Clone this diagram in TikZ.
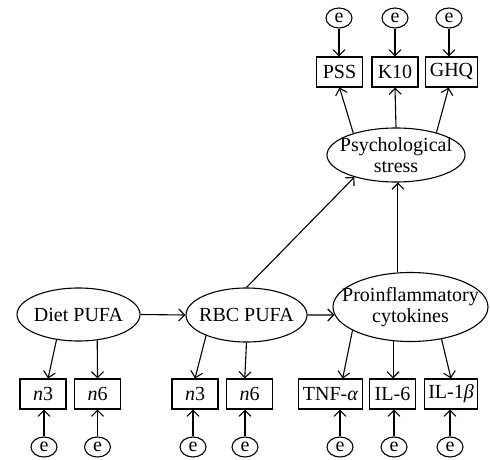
\documentclass[tikz,border=0pt]{standalone}
\usepackage{fontspec}
\setmainfont{Liberation Serif}
\usetikzlibrary{shapes.geometric,arrows.meta}

\newcommand{\ctr}[1]{\makebox[0pt]{#1}}

\tikzset{
	latent/.style={ellipse, draw, inner sep=0pt, align=center},
	obs/.style={rectangle, draw, minimum width=46pt, minimum height=30pt, inner xsep=4pt, inner ysep=0pt},
	err/.style={ellipse, draw, minimum width=26pt, minimum height=20pt, inner sep=0pt},
	lnk/.style={-{Straight Barb[length=6pt,width=12pt]}}
}

\begin{document}
\begin{tikzpicture}[x=1pt, y=-1pt, line width=1.1pt, font=\fontsize{20}{21}\selectfont]
			\useasboundingbox (0,0) rectangle (490,460);
			% latent variables
			\node[latent, minimum width=123pt, minimum height=53pt] (dp) at (78.5, 314.5) {\ctr{Diet PUFA}};
			\node[latent, minimum width=121pt, minimum height=54pt] (rbc) at (246.5, 315) {\ctr{RBC PUFA}};
			\node[latent, minimum width=155pt, minimum height=69pt] (pc) at (410.5, 307) {\ctr{Proinflammatory}\\\ctr{cytokines}};
			\node[latent, minimum width=138pt, minimum height=54pt] (ps) at (396, 155) {\ctr{Psychological}\\\ctr{stress}};
			
			% indicators (top)
			\node[obs] (pss) at (339.5, 72) {PSS};
			\node[obs] (k10) at (395, 72) {K10};
			\node[obs] (ghq) at (451.5, 72) {GHQ};
			
			% indicators (bottom)
			\node[obs] (dn3) at (43, 394) {\textit{n}3};
			\node[obs] (dn6) at (97.5, 394) {\textit{n}6};
			\node[obs] (rn3) at (195, 394) {\textit{n}3};
			\node[obs] (rn6) at (249.5, 394) {\textit{n}6};
			\node[obs] (tnf) at (330.5, 394) {TNF-\textit{α}};
			\node[obs] (il6) at (392.5, 394) {IL-6};
			\node[obs] (il1) at (451, 394) {IL-1\textit{β}};
			
			% errors
			\node[err] (ep) at (339, 18) {e};
			\node[err] (ek) at (395, 18) {e};
			\node[err] (eg) at (449, 18) {e};
			\node[err] (e1) at (44, 447) {e};
			\node[err] (e2) at (97.5, 447) {e};
			\node[err] (e3) at (193, 447) {e};
			\node[err] (e4) at (245, 447) {e};
			\node[err] (e5) at (340, 447) {e};
			\node[err] (e6) at (394, 447) {e};
			\node[err] (e7) at (450, 447) {e};
			
			% DRAW STRUCTURAL PATHS
			\path[draw, lnk] (dp.east)--(rbc.west);
			\path[draw, lnk] (rbc.east)--(pc.186);
			\path[draw, lnk] (rbc.90)--(ps.208);
			\path[draw, lnk] (pc.110)--(pc.110 |- ps.south);
			
			% DRAW LOADINGS
			\path[draw, lnk] (ps.153)--(pss.south);
			\path[draw, lnk] (ps.north)--(k10.south);
			\path[draw, lnk] (ps.29)--(ghq.260);
			\path[draw, lnk] (dp.229)--(dn3.72);
			\path[draw, lnk] (dp.306)--(dn6.north);
			\path[draw, lnk] (rbc.207)--(rn3.north);
			\path[draw, lnk] (rbc.270)--(rn6.107);
			\path[draw, lnk] (pc.202)--(tnf.52);
			\path[draw, lnk] (pc.243)--(pc.243 |- il6.north);
			\path[draw, lnk] (pc.314)--(il1.north);
			
			% DRAW ERRORS
			\foreach \e/\b in {ep/pss, ek/k10, eg/ghq}
				\path[draw, lnk] (\e.south)--(\e.south |- \b.north);
			\foreach \e/\b in {e1/dn3, e2/dn6, e3/rn3, e4/rn6, e5/tnf, e6/il6, e7/il1}
				\path[draw, lnk] (\e.north)--(\e.north |- \b.south);
		\end{tikzpicture}
\end{document}
